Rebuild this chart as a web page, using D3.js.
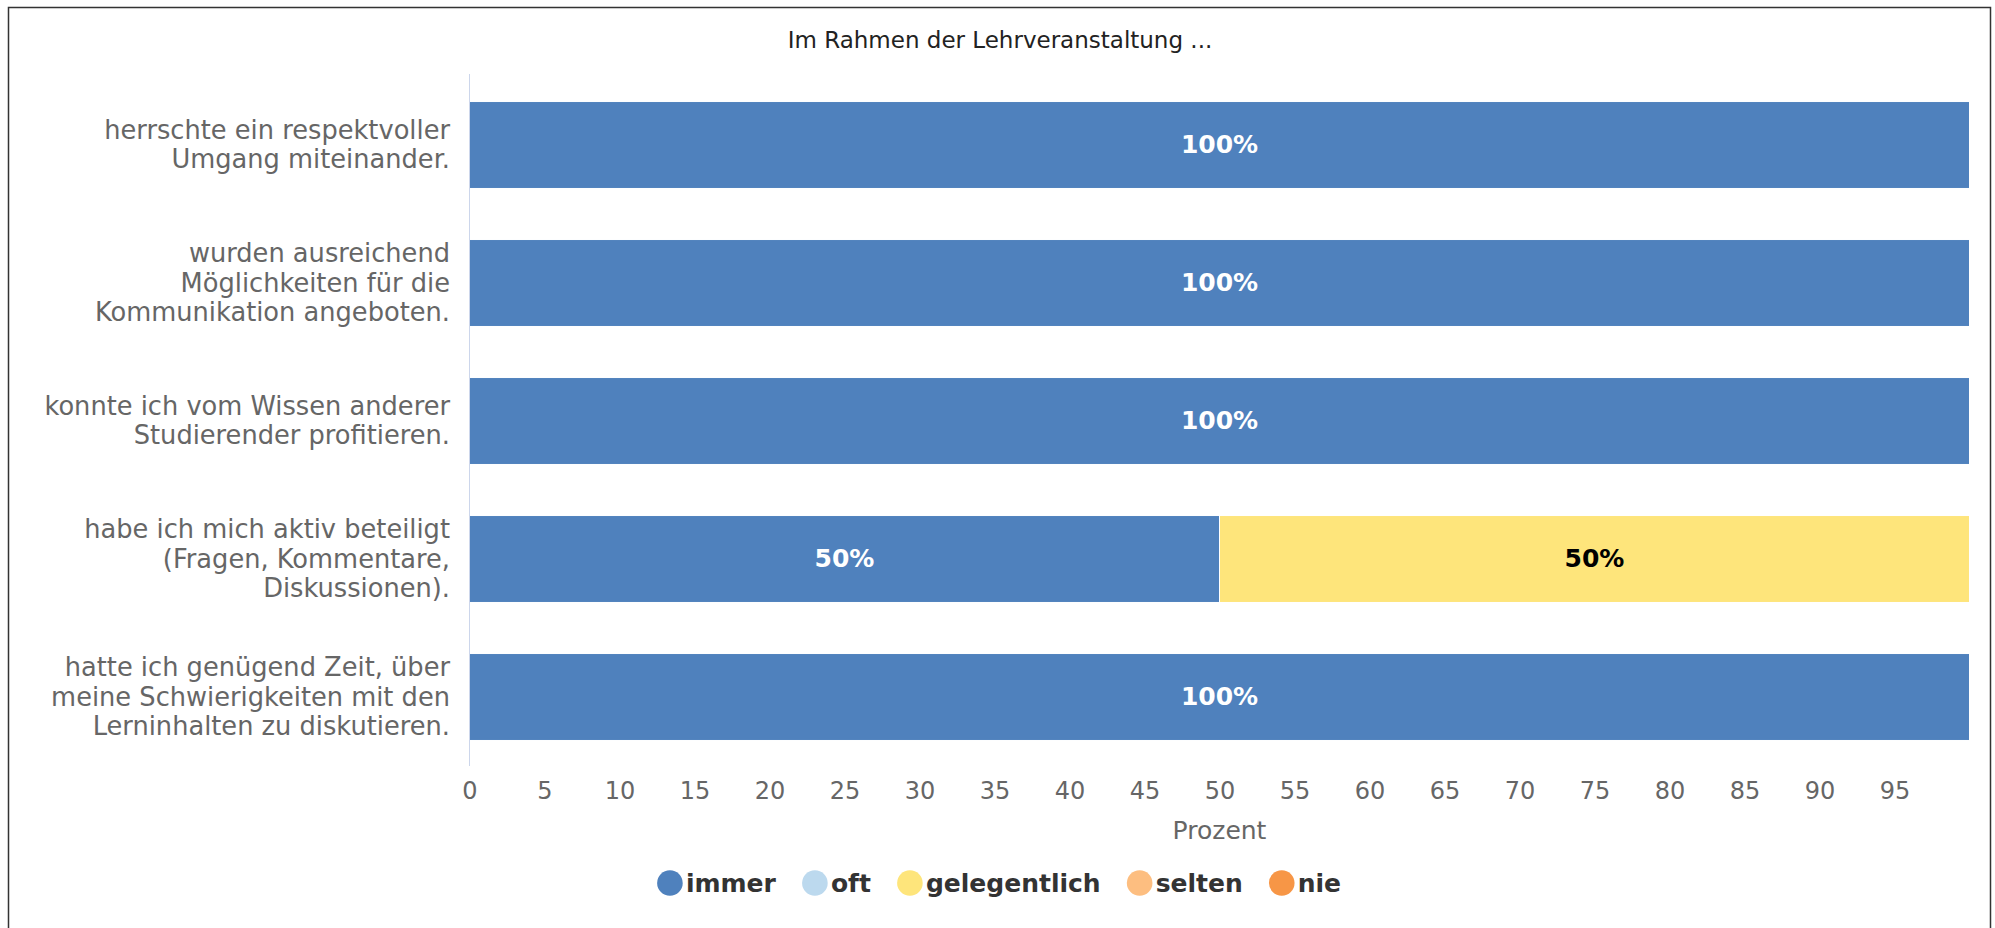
<!DOCTYPE html>
<html>
<head>
<meta charset="utf-8">
<script src="https://cdnjs.cloudflare.com/ajax/libs/d3/7.8.5/d3.min.js"></script>
<style>
  body { margin: 0; background: #fff; }
  svg { font-family: "DejaVu Sans", sans-serif; display: block; }
</style>
</head>
<body>
<svg></svg>
<script>
const size = { w: 1995, h: 928 };
const svg = d3.select("svg").attr("width", size.w).attr("height", size.h);

// chart values
const title = "Im Rahmen der Lehrveranstaltung ...";
const questions = [
	["herrschte ein respektvoller", "Umgang miteinander."],
	["wurden ausreichend", "Möglichkeiten für die", "Kommunikation angeboten."],
	["konnte ich vom Wissen anderer", "Studierender profitieren."],
	["habe ich mich aktiv beteiligt", "(Fragen, Kommentare,", "Diskussionen)."],
	["hatte ich genügend Zeit, über", "meine Schwierigkeiten mit den", "Lerninhalten zu diskutieren."],
];
const seriesNames = ["immer", "oft", "gelegentlich", "selten", "nie"];
const immer = [100, 100, 100, 50, 100];
const oft = [0, 0, 0, 0, 0];
const gelegentlich = [0, 0, 0, 50, 0];
const selten = [0, 0, 0, 0, 0];
const nie = [0, 0, 0, 0, 0];
const seriesColors = ["#4f81bd", "#bcd9ee", "#fee57b", "#fdbe80", "#f79646"];
const tickValues = d3.range(0, 100, 5);

const rows = questions.map((q, i) => ({
	key: i,
	immer: immer[i],
	oft: oft[i],
	gelegentlich: gelegentlich[i],
	selten: selten[i],
	nie: nie[i],
}));

const stacked = d3.stack().keys(seriesNames)(rows);

const x = d3.scaleLinear().domain([0, 100]).range([469.5, 1969.5]);
const y = d3.scaleBand()
	.domain(rows.map((d) => d.key))
	.range([76, 766])
	.paddingInner(0.37)
	.paddingOuter(0.185);
const color = d3.scaleOrdinal().domain(seriesNames).range(seriesColors);

// outer frame
svg.append("rect")
	.attr("x", 8.5).attr("y", 7.5)
	.attr("width", 1982).attr("height", 940)
	.attr("fill", "none")
	.attr("stroke", "#333")
	.attr("stroke-width", 1.5);

svg.append("text")
	.attr("x", 1000).attr("y", 48)
	.attr("text-anchor", "middle")
	.attr("font-size", 23)
	.attr("fill", "#222")
	.text(title);

// bars
const barsG = svg.append("g");
barsG.selectAll("g")
	.data(stacked)
	.join("g")
	.attr("fill", (s) => color(s.key))
	.selectAll("rect")
	.data((s) => s.filter((d) => d[1] - d[0] > 0))
	.join("rect")
	.attr("x", (d) => x(d[0]))
	.attr("y", (d) => y(d.data.key))
	.attr("width", (d) => x(d[1]) - x(d[0]))
	.attr("height", y.bandwidth())
	.attr("stroke", "#fff")
	.attr("stroke-width", 1);

// data labels
const labelsG = svg.append("g");
stacked.forEach((s) => {
	labelsG.selectAll(null)
		.data(s.filter((d) => d[1] - d[0] > 0))
		.join("text")
		.attr("x", (d) => (x(d[0]) + x(d[1])) / 2)
		.attr("y", (d) => y(d.data.key) + y.bandwidth() / 2 + 7.5)
		.attr("text-anchor", "middle")
		.attr("font-size", 25)
		.attr("font-weight", "bold")
		.attr("fill", s.key === "gelegentlich" ? "#000" : "#fff")
		.text((d) => `${d[1] - d[0]}%`);
});

// category axis line
svg.append("line")
	.attr("x1", x(0)).attr("x2", x(0))
	.attr("y1", 74).attr("y2", 766)
	.attr("stroke", "#ccd6eb");

// category labels
const catG = svg.append("g");
const lineH = 29.5;
catG.selectAll("text")
	.data(rows)
	.join("text")
	.attr("text-anchor", "end")
	.attr("font-size", 25.7)
	.attr("fill", "#666")
	.each(function (d, i) {
		const lines = questions[i];
		const cy = y(d.key) + y.bandwidth() / 2;
		const top = cy - ((lines.length - 1) * lineH) / 2 + 8.5;
		d3.select(this).selectAll("tspan")
			.data(lines)
			.join("tspan")
			.attr("x", 450)
			.attr("y", (l, j) => top + j * lineH)
			.text((l) => l);
	});

// value axis
const xAxis = d3.axisBottom(x).tickValues(tickValues).tickSize(0).tickPadding(0);
const axisG = svg.append("g").attr("transform", "translate(0,781)").call(xAxis);
axisG.select(".domain").remove();
axisG.selectAll("text")
	.attr("font-family", "DejaVu Sans, sans-serif")
	.attr("font-size", 24)
	.attr("fill", "#666")
	.attr("dy", "0.75em");

svg.append("text")
	.attr("x", (x(0) + x(100)) / 2).attr("y", 839)
	.attr("text-anchor", "middle")
	.attr("font-size", 25)
	.attr("fill", "#666")
	.text("Prozent");

// legend
const legendG = svg.append("g");
let lx = 0;
seriesNames.forEach((name) => {
	const item = legendG.append("g").attr("transform", `translate(${lx},0)`);
	item.append("circle")
		.attr("cx", 13).attr("cy", 883).attr("r", 12.8)
		.attr("fill", color(name));
	const t = item.append("text")
		.attr("x", 29).attr("y", 892)
		.attr("font-size", 25)
		.attr("font-weight", "bold")
		.attr("fill", "#333")
		.text(name);
	lx += 29 + t.node().getComputedTextLength() + 26;
});
const legendW = lx - 26;
legendG.attr("transform", `translate(${999 - legendW / 2},0)`);
</script>
</body>
</html>
